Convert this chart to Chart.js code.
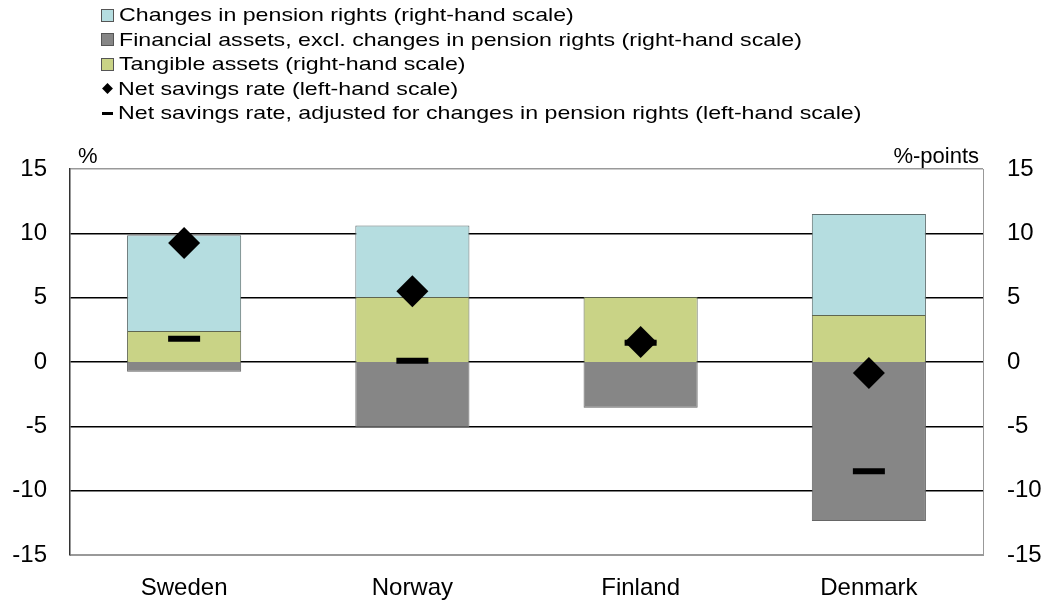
<!DOCTYPE html>
<html>
<head>
<meta charset="utf-8">
<script src="https://cdn.jsdelivr.net/npm/chart.js@4.4.1/dist/chart.umd.min.js"></script>
<style>
  body { margin: 0; background: #fff; font-family: "Liberation Sans", Arial, sans-serif; }
  #wrap { position: relative; width: 1049px; height: 605px; }
  #legend { position: absolute; left: 101px; top: 3px; font-size: 19px; color: #000; }
  #legend div { height: 24.5px; line-height: 24.5px; white-space: nowrap; display: flex; align-items: center; }
  #legend .mk { width: 13px; height: 13px; margin-right: 5px; box-sizing: border-box; display: inline-block; flex: none; }
  #legend .tx { display: inline-block; transform: scaleX(1.22); transform-origin: left center; }
</style>
</head>
<body>
<div id="wrap">
  <canvas id="chart1" width="1049" height="605"></canvas>
  <div id="legend"></div>
</div>
<script>
const countries = ['Sweden', 'Norway', 'Finland', 'Denmark'];

// right-hand scale, %-points
const pensionRights = [7.45, 5.55, 0, 7.85];
const financialAssets = [-0.75, -5.1, -3.55, -12.35];
const tangibleAssets = [2.4, 5.05, 5.05, 3.65];

// left-hand scale, %
const netSavings = [9.25, 5.5, 1.55, -0.85];
const netSavingsAdjusted = [1.8, 0.1, 1.5, -8.5];

const ctx1 = document.querySelector('#chart1');
const font = '"Liberation Sans", Arial, sans-serif';

const unitLabels = {
  id: 'unitLabels',
  afterDraw(chart) {
    const c = chart.ctx;
    const a = chart.chartArea;
    c.save();
    c.fillStyle = '#000';
    c.font = '22px ' + font;
    c.textBaseline = 'bottom';
    c.textAlign = 'left';
    c.fillText('%', a.left + 8, a.top - 1);
    c.textAlign = 'right';
    c.fillText('%-points', a.right - 4, a.top - 1);
    c.restore();
  }
};

const chart1 = new Chart(ctx1, {
  data: {
    labels: countries,
    datasets: [
      {
        type: 'bar',
        label: 'Changes in pension rights (right-hand scale)',
        data: pensionRights,
        yAxisID: 'y2',
        backgroundColor: '#b5dde0',
        borderColor: '#5f6f70',
        borderWidth: 1,
        order: 3
      },
      {
        type: 'bar',
        label: 'Financial assets, excl. changes in pension rights (right-hand scale)',
        data: financialAssets,
        yAxisID: 'y2',
        backgroundColor: '#868686',
        borderColor: '#666',
        borderWidth: 1,
        order: 2
      },
      {
        type: 'bar',
        label: 'Tangible assets (right-hand scale)',
        data: tangibleAssets,
        yAxisID: 'y2',
        backgroundColor: '#c9d386',
        borderColor: '#5f6650',
        borderWidth: 1,
        order: 1
      },
      {
        type: 'line',
        label: 'Net savings rate (left-hand scale)',
        data: netSavings,
        yAxisID: 'y',
        showLine: false,
        pointStyle: 'rectRot',
        pointRadius: 16,
        backgroundColor: '#000',
        borderColor: '#000',
        borderWidth: 0,
        order: 0
      },
      {
        type: 'line',
        label: 'Net savings rate, adjusted for changes in pension rights (left-hand scale)',
        data: netSavingsAdjusted,
        yAxisID: 'y',
        showLine: false,
        pointStyle: 'line',
        pointRadius: 16,
        backgroundColor: '#000',
        borderColor: '#000',
        borderWidth: 6,
        order: 0
      }
    ]
  },
  options: {
    responsive: false,
    animation: false,
    layout: { padding: { top: 169, left: 0, right: 0, bottom: 0 } },
    plugins: {
      legend: { display: false },
      tooltip: { enabled: false }
    },
    datasets: {
      bar: { categoryPercentage: 1, barPercentage: 0.5 }
    },
    scales: {
      x: {
        stacked: true,
        grid: { display: false, drawTicks: false },
        border: { color: '#999', width: 1 },
        ticks: { color: '#000', font: { size: 24, family: font }, padding: 19 },
        afterFit: (s) => { s.height = 50; }
      },
      y: {
        position: 'left',
        min: -15,
        max: 15,
        ticks: { stepSize: 5, color: '#000', font: { size: 24, family: font }, padding: 23 },
        grid: {
          drawTicks: false,
          lineWidth: 1.5,
          color: (c) => (Math.abs(c.tick.value) === 15 ? '#999' : '#000')
        },
        border: { color: '#333', width: 1.5 },
        afterFit: (s) => { s.width = 70; }
      },
      y2: {
        position: 'right',
        stacked: true,
        min: -15,
        max: 15,
        ticks: { stepSize: 5, color: '#000', font: { size: 24, family: font }, padding: 24 },
        grid: { display: false, drawTicks: false },
        border: { color: '#999', width: 1 },
        afterFit: (s) => { s.width = 66; }
      }
    }
  },
  plugins: [unitLabels]
});

// legend, one entry per line
const legendEl = document.querySelector('#legend');
chart1.data.datasets.forEach((ds) => {
  const row = document.createElement('div');
  const mk = document.createElement('span');
  mk.className = 'mk';
  if (ds.type === 'bar') {
    mk.style.background = ds.backgroundColor;
    mk.style.border = '1px solid #555';
  } else if (ds.pointStyle === 'rectRot') {
    mk.style.width = '9px';
    mk.style.height = '9px';
    mk.style.background = '#000';
    mk.style.transform = 'rotate(45deg) scale(0.85)';
    mk.style.margin = '0 6px 0 2px';
  } else {
    mk.style.width = '11px';
    mk.style.height = '3px';
    mk.style.background = '#000';
    mk.style.margin = '0 5px 0 1px';
  }
  const tx = document.createElement('span');
  tx.className = 'tx';
  tx.textContent = ds.label;
  row.appendChild(mk);
  row.appendChild(tx);
  legendEl.appendChild(row);
});
</script>
</body>
</html>
